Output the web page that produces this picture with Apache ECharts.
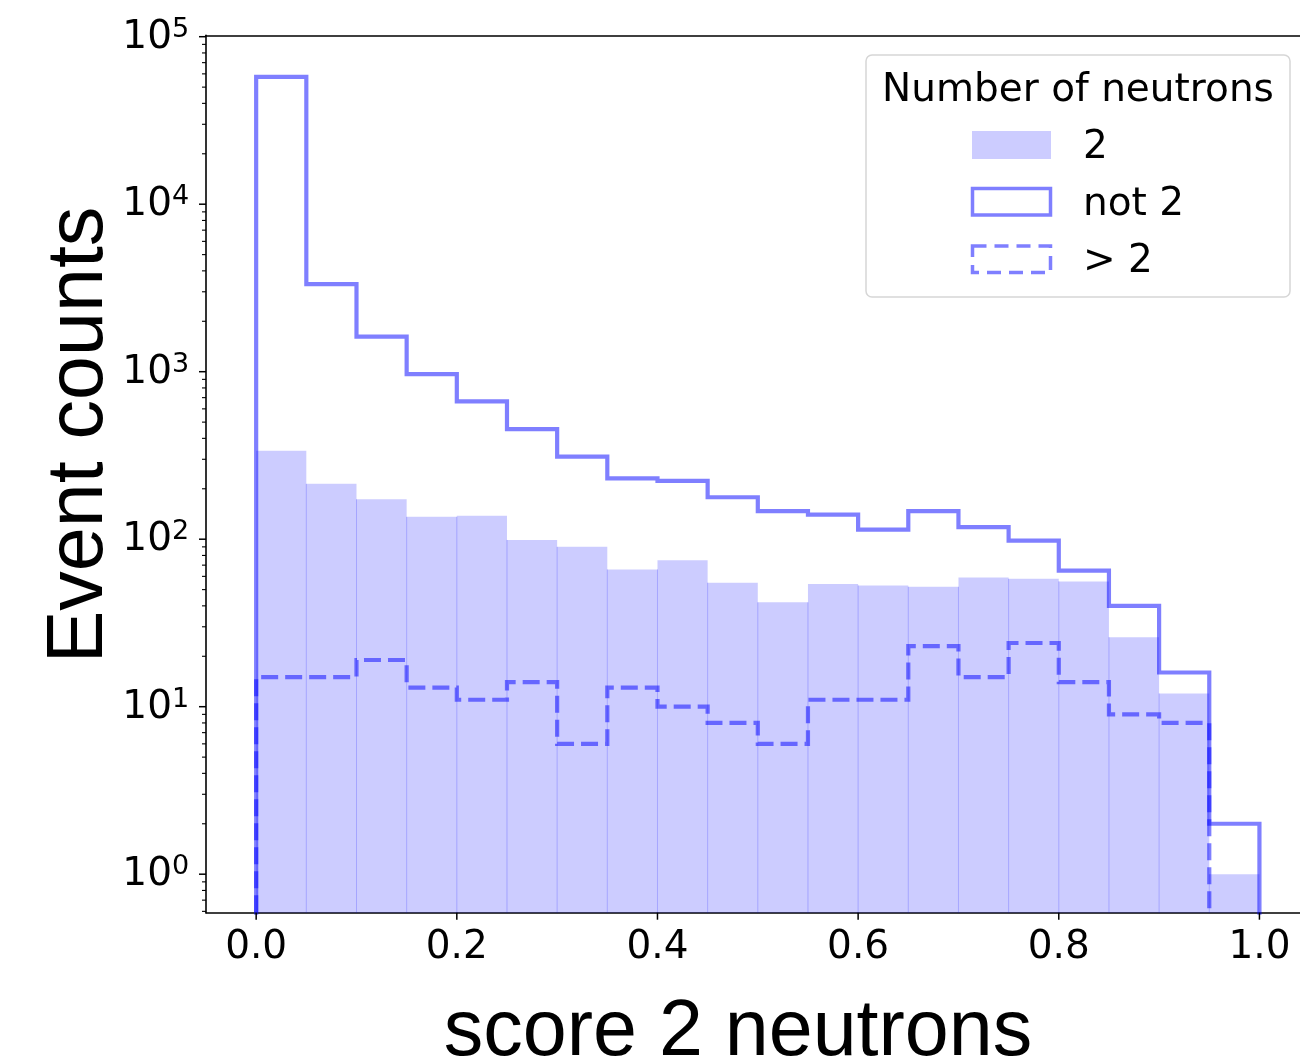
<!DOCTYPE html>
<html>
<head>
<meta charset="utf-8">
<script src="https://cdn.jsdelivr.net/npm/echarts@6/dist/echarts.min.js"></script>
<style>
  html, body { margin: 0; padding: 0; background: #ffffff; }
  #chart { width: 1300px; height: 1063px; }
</style>
</head>
<body>
<div id="chart"></div>
<script>
// Histogram of the "score 2 neutrons" classifier output, 20 bins over [0, 1]
const BIN_EDGES = [0.00, 0.05, 0.10, 0.15, 0.20, 0.25, 0.30, 0.35, 0.40, 0.45, 0.50,
                   0.55, 0.60, 0.65, 0.70, 0.75, 0.80, 0.85, 0.90, 0.95, 1.00];

// Event counts per bin
const COUNTS_TWO = [337, 214, 173, 136, 138, 99, 90, 66, 75, 55,
                    42, 54, 53, 52, 59, 58, 56, 26, 12, 1];
const COUNTS_NOT_TWO = [57500, 3330, 1620, 966, 665, 454, 311, 231, 223, 178,
                        147, 140, 114, 147, 118, 98, 65, 40, 16, 2];
const COUNTS_MORE_THAN_TWO = [15, 15, 19, 13, 11, 14, 6, 13, 10, 8,
                              6, 11, 11, 23, 15, 24, 14, 9, 8, 0];

// Axis ticks and text
const X_TICKS = [0.0, 0.2, 0.4, 0.6, 0.8, 1.0];
const X_TICK_LABELS = ['0.0', '0.2', '0.4', '0.6', '0.8', '1.0'];
const Y_TICK_EXPONENTS = [0, 1, 2, 3, 4, 5];
const MINOR_MULTIPLES = [2, 3, 4, 5, 6, 7, 8, 9];
const SERIES_NAMES = ['2', 'not 2', '> 2'];
const LEGEND_TITLE = 'Number of neutrons';
const X_TITLE = 'score 2 neutrons';
const Y_TITLE = 'Event counts';

// Axis ranges and styling
const X_MIN = -0.05, X_MAX = 1.05;
const Y_MIN = 0.589, Y_MAX = 101950;
const FILL = 'rgba(0,0,255,0.2)';
const EDGE = 'rgba(0,0,255,0.5)';
const SEAM = 'rgba(0,0,255,0.2)';
const DASH = [17, 7];
const LINE_W = 4.2;
const LABEL_SIZE = 39;
const SUP_SIZE = 27;
const TICK_FONT = '"DejaVu Sans", sans-serif';
const TITLE_FONT = '"Liberation Sans", Arial, sans-serif';

// Outline of a step histogram; an empty bin drops the line to the floor
function stepPoints(counts) {
  const floor = Y_MIN / 10;
  const pts = [[BIN_EDGES[0], floor]];
  for (let i = 0; i < counts.length; i++) {
    if (counts[i] <= 0) {
      pts.push([BIN_EDGES[i], floor]);
      return pts;
    }
    pts.push([BIN_EDGES[i], counts[i]]);
    pts.push([BIN_EDGES[i + 1], counts[i]]);
  }
  pts.push([BIN_EDGES[counts.length], floor]);
  return pts;
}

const barData = COUNTS_TWO.map((v, i) => [BIN_EDGES[i], BIN_EDGES[i + 1], v]);
const seamData = [];
for (let i = 1; i < COUNTS_TWO.length; i++) {
  seamData.push([BIN_EDGES[i], Math.min(COUNTS_TWO[i - 1], COUNTS_TWO[i])]);
}

const yTickData = [];
Y_TICK_EXPONENTS.forEach(e => yTickData.push([X_MIN, Math.pow(10, e), 1, e]));
for (let e = -1; e <= 5; e++) {
  MINOR_MULTIPLES.forEach(m => {
    const v = m * Math.pow(10, e);
    if (v >= Y_MIN && v <= Y_MAX) yTickData.push([X_MIN, v, 0, e]);
  });
}
const xTickData = X_TICKS.map((x, i) => [x, Y_MIN, i]);

function renderBar(params, api) {
  const v = api.value(2);
  if (v <= 0) return;
  const p0 = api.coord([api.value(0), v]);
  const p1 = api.coord([api.value(1), Y_MIN]);
  return {
    type: 'rect',
    shape: { x: p0[0], y: p0[1], width: p1[0] - p0[0], height: p1[1] - p0[1] },
    style: { fill: FILL }
  };
}

function renderSeam(params, api) {
  const top = api.coord([api.value(0), api.value(1)]);
  const bot = api.coord([api.value(0), Y_MIN]);
  return {
    type: 'line',
    shape: { x1: top[0], y1: top[1], x2: bot[0], y2: bot[1] },
    style: { stroke: SEAM, lineWidth: 1 }
  };
}

function renderYTick(params, api) {
  const major = api.value(2) === 1;
  const p = api.coord([api.value(0), api.value(1)]);
  const len = major ? 7 : 4;
  const children = [{
    type: 'line',
    shape: { x1: p[0] - len, y1: p[1], x2: p[0], y2: p[1] },
    style: { stroke: '#000', lineWidth: major ? 1.5 : 1.1 }
  }];
  if (major) {
    children.push({
      type: 'text', x: p[0] - 34, y: p[1] + 1,
      style: { text: '10', fill: '#000', fontSize: LABEL_SIZE, fontFamily: TICK_FONT,
               align: 'right', verticalAlign: 'middle' }
    });
    children.push({
      type: 'text', x: p[0] - 34, y: p[1] - 7,
      style: { text: String(api.value(3)), fill: '#000', fontSize: SUP_SIZE, fontFamily: TICK_FONT,
               align: 'left', verticalAlign: 'middle' }
    });
  }
  return { type: 'group', children: children };
}

function renderXTick(params, api) {
  const p = api.coord([api.value(0), api.value(1)]);
  return {
    type: 'group',
    children: [{
      type: 'line',
      shape: { x1: p[0], y1: p[1], x2: p[0], y2: p[1] + 7 },
      style: { stroke: '#000', lineWidth: 1.5 }
    }, {
      type: 'text', x: p[0], y: p[1] + 35,
      style: { text: X_TICK_LABELS[api.value(2)], fill: '#000', fontSize: LABEL_SIZE, fontFamily: TICK_FONT,
               align: 'center', verticalAlign: 'middle' }
    }]
  };
}

const chart = echarts.init(document.getElementById('chart'), null, { renderer: 'canvas' });

const axisLine = { show: true, onZero: false, lineStyle: { color: '#000', width: 1.6 } };

chart.setOption({
  animation: false,
  backgroundColor: '#ffffff',
  grid: { left: 206, top: 35.3, width: 1103.6, height: 877.4, outerBoundsMode: 'none' },
  xAxis: [{
    type: 'value', min: X_MIN, max: X_MAX,
    axisLine: axisLine, axisTick: { show: false }, axisLabel: { show: false }, splitLine: { show: false }
  }, {
    type: 'value', min: X_MIN, max: X_MAX, position: 'top',
    axisLine: axisLine, axisTick: { show: false }, axisLabel: { show: false }, splitLine: { show: false }
  }],
  yAxis: {
    type: 'log', logBase: 10, min: Y_MIN, max: Y_MAX,
    axisLine: axisLine, axisTick: { show: false }, axisLabel: { show: false }, splitLine: { show: false }
  },
  series: [
    { type: 'custom', name: SERIES_NAMES[0], renderItem: renderBar, data: barData,
      encode: { x: [0, 1], y: 2 }, silent: true, z: 1 },
    { type: 'custom', renderItem: renderSeam, data: seamData,
      encode: { x: 0, y: 1 }, silent: true, z: 2 },
    { type: 'line', name: SERIES_NAMES[1], data: stepPoints(COUNTS_NOT_TWO), showSymbol: false,
      lineStyle: { color: EDGE, width: LINE_W, join: 'miter', cap: 'butt' }, clip: true, silent: true, z: 3 },
    { type: 'line', name: SERIES_NAMES[2], data: stepPoints(COUNTS_MORE_THAN_TWO), showSymbol: false,
      lineStyle: { color: EDGE, width: LINE_W, type: DASH, join: 'miter', cap: 'butt' }, clip: true, silent: true, z: 4 },
    { type: 'custom', renderItem: renderYTick, data: yTickData,
      encode: { x: 0, y: 1 }, clip: false, silent: true, z: 5 },
    { type: 'custom', renderItem: renderXTick, data: xTickData,
      encode: { x: 0, y: 1 }, clip: false, silent: true, z: 5 }
  ],
  graphic: [
    // axis titles
    { type: 'text', x: 738, y: 1033, silent: true,
      style: { text: X_TITLE, fill: '#000', fontSize: 79, fontFamily: TITLE_FONT,
               align: 'center', verticalAlign: 'middle' } },
    { type: 'text', x: 80, y: 435, rotation: Math.PI / 2, silent: true,
      style: { text: Y_TITLE, fill: '#000', fontSize: 79, fontFamily: TITLE_FONT,
               align: 'center', verticalAlign: 'middle' } },
    // legend frame
    { type: 'rect', silent: true, z: 10,
      shape: { x: 866, y: 55, width: 424, height: 242, r: 6 },
      style: { fill: 'rgba(255,255,255,0.8)', stroke: '#d6d6d6', lineWidth: 1.5 } },
    { type: 'text', x: 1078, y: 91, silent: true, z: 11,
      style: { text: LEGEND_TITLE, fill: '#000', fontSize: LABEL_SIZE, fontFamily: TICK_FONT,
               align: 'center', verticalAlign: 'middle' } },
    { type: 'rect', silent: true, z: 11,
      shape: { x: 972, y: 131, width: 79, height: 28 },
      style: { fill: FILL } },
    { type: 'rect', silent: true, z: 11,
      shape: { x: 972.5, y: 188.5, width: 78, height: 26.5 },
      style: { fill: 'none', stroke: EDGE, lineWidth: 3.5 } },
    { type: 'rect', silent: true, z: 11,
      shape: { x: 972.5, y: 246, width: 78, height: 26.5 },
      style: { fill: 'none', stroke: EDGE, lineWidth: 3.5, lineDash: [14, 8] } },
    { type: 'text', x: 1083, y: 148, silent: true, z: 11,
      style: { text: SERIES_NAMES[0], fill: '#000', fontSize: LABEL_SIZE, fontFamily: TICK_FONT,
               align: 'left', verticalAlign: 'middle' } },
    { type: 'text', x: 1083, y: 205, silent: true, z: 11,
      style: { text: SERIES_NAMES[1], fill: '#000', fontSize: LABEL_SIZE, fontFamily: TICK_FONT,
               align: 'left', verticalAlign: 'middle' } },
    { type: 'text', x: 1083, y: 262, silent: true, z: 11,
      style: { text: SERIES_NAMES[2], fill: '#000', fontSize: LABEL_SIZE, fontFamily: TICK_FONT,
               align: 'left', verticalAlign: 'middle' } }
  ]
});
</script>
</body>
</html>
